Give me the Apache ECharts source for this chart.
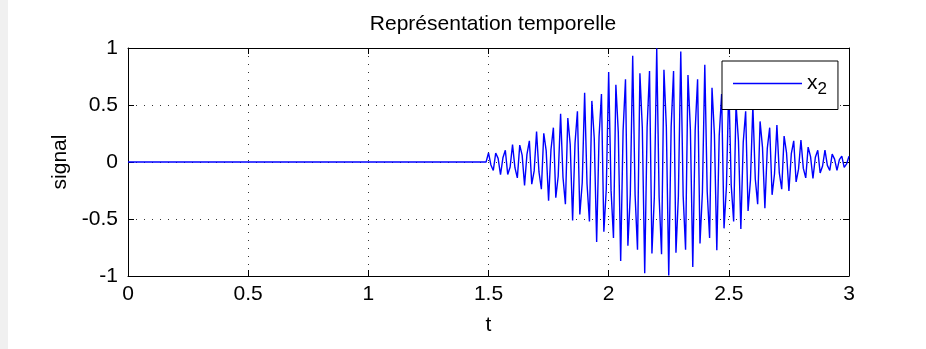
<!DOCTYPE html>
<html><head><meta charset="utf-8">
<script src="https://cdn.jsdelivr.net/npm/echarts@6/dist/echarts.min.js"></script>
<style>html,body{margin:0;padding:0;background:#fff}#c{width:926px;height:349px}</style>
</head><body><div id="c"></div>
<script>
// ---- data ----
const zeroT = [0, 1.49];
const zeroX = [0, 0];
const sigStart = 1.5;
const sigStep = 0.01;
const sigX = [
  0.080, -0.026, -0.074, 0.079, 0.032, -0.112, 0.037, 0.103, -0.109, -0.044,
  0.153, -0.050, -0.139, 0.148, 0.060, -0.205, 0.067, 0.185, -0.195, -0.078,
  0.267, -0.087, -0.239, 0.251, 0.100, -0.340, 0.110, 0.301, -0.314, -0.125,
  0.423, -0.136, -0.370, 0.385, 0.153, -0.513, 0.164, 0.445, -0.460, -0.182,
  0.607, -0.193, -0.522, 0.536, 0.211, -0.701, 0.222, 0.596, -0.611, -0.239,
  0.790, -0.249, -0.666, 0.678, 0.264, -0.868, 0.273, 0.725, -0.735, -0.285,
  0.932, -0.291, -0.770, 0.778, 0.299, -0.976, 0.304, 0.799, -0.803, -0.308,
  0.998, -0.309, -0.809, 0.809, 0.308, -0.996, 0.307, 0.799, -0.795, -0.302,
  0.969, -0.297, -0.770, 0.763, 0.288, -0.921, 0.281, 0.725, -0.714, -0.268,
  0.854, -0.259, -0.666, 0.652, 0.244, -0.773, 0.233, 0.596, -0.582, -0.216,
  0.682, -0.205, -0.522, 0.506, 0.187, -0.588, 0.176, 0.445, -0.430, -0.158,
  0.494, -0.147, -0.370, 0.356, 0.131, -0.405, 0.120, 0.301, -0.288, -0.105,
  0.325, -0.096, -0.239, 0.227, 0.083, -0.254, 0.074, 0.185, -0.175, -0.063,
  0.193, -0.056, -0.139, 0.131, 0.047, -0.144, 0.042, 0.103, -0.096, -0.035,
  0.105, -0.030, -0.074, 0.069, 0.025, -0.074, 0.021, 0.052, -0.048, -0.017,
  0.051
];
const xMin = 0, xMax = 3, xInterval = 0.5;
const yMin = -1, yMax = 1, yInterval = 0.5;
const titleText = 'Représentation temporelle';
const xName = 't';
const yName = 'signal';
const seriesName = 'x2';

// ---- build ----
const data = [];
for (let i = 0; i < zeroT.length; i++) data.push([zeroT[i], zeroX[i]]);
for (let i = 0; i < sigX.length; i++) data.push([+(sigStart + i * sigStep).toFixed(2), sigX[i]]);

const FONT = '"Liberation Sans", Arial, Helvetica, sans-serif';
const FS = 21;
const chart = echarts.init(document.getElementById('c'), null, {renderer: 'canvas'});

const line = {show: true, onZero: false, lineStyle: {color: '#000', width: 1}};
const tick = {show: true, inside: true, length: 6, lineStyle: {color: '#000', width: 1}};
const grid = {show: true, lineStyle: {color: '#333', width: 1, type: [1, 7]}};
const label = {color: '#000', fontFamily: FONT, fontSize: FS};

chart.setOption({
  animation: false,
  backgroundColor: '#fff',
  textStyle: {fontFamily: FONT},
  graphic: [{type: 'rect', left: 0, top: 0, z: -10, shape: {width: 8, height: 349}, style: {fill: '#f0f0f0'}}],
  title: {
    text: titleText, left: 488, top: 9, textAlign: 'center',
    textStyle: {fontFamily: FONT, fontSize: FS, fontWeight: 'normal', color: '#000'}
  },
  grid: {left: 128, right: 77, top: 48, bottom: 73, containLabel: false},
  xAxis: [
    {type: 'value', min: xMin, max: xMax, interval: xInterval, position: 'bottom',
     axisLine: line, axisTick: tick, splitLine: grid,
     axisLabel: Object.assign({margin: 8}, label),
     name: xName, nameLocation: 'middle', nameGap: 39,
     nameTextStyle: {fontFamily: FONT, fontSize: FS, color: '#000'}},
    {type: 'value', min: xMin, max: xMax, interval: xInterval, position: 'top',
     axisLine: line, axisTick: tick, splitLine: {show: false}, axisLabel: {show: false}}
  ],
  yAxis: [
    {type: 'value', min: yMin, max: yMax, interval: yInterval, position: 'left',
     axisLine: line, axisTick: tick, splitLine: grid,
     axisLabel: Object.assign({margin: 10}, label),
     name: yName, nameLocation: 'middle', nameGap: 56,
     nameTextStyle: {fontFamily: FONT, fontSize: FS, color: '#000'}},
    {type: 'value', min: yMin, max: yMax, interval: yInterval, position: 'right',
     axisLine: line, axisTick: tick, splitLine: {show: false}, axisLabel: {show: false}}
  ],
  legend: {
    data: [{name: seriesName, icon: 'rect'}],
    left: 722, top: 61,
    orient: 'vertical',
    backgroundColor: '#fff', borderColor: '#000', borderWidth: 1,
    padding: [12, 11, 12, 11],
    itemWidth: 69, itemHeight: 1.5,
    itemStyle: {color: '#0000ff'},
    formatter: () => 'x{sub|2}',
    textStyle: {fontFamily: FONT, fontSize: FS, color: '#000',
      rich: {sub: {fontFamily: FONT, fontSize: 17, color: '#000', padding: [11, 0, 0, 0]}}}
  },
  series: [{
    name: seriesName, type: 'line', data: data,
    symbol: 'none', showSymbol: false,
    lineStyle: {color: '#0000ff', width: 1.4}, itemStyle: {color: '#0000ff'},
    xAxisIndex: 0, yAxisIndex: 0
  }]
});
</script>
</body></html>
